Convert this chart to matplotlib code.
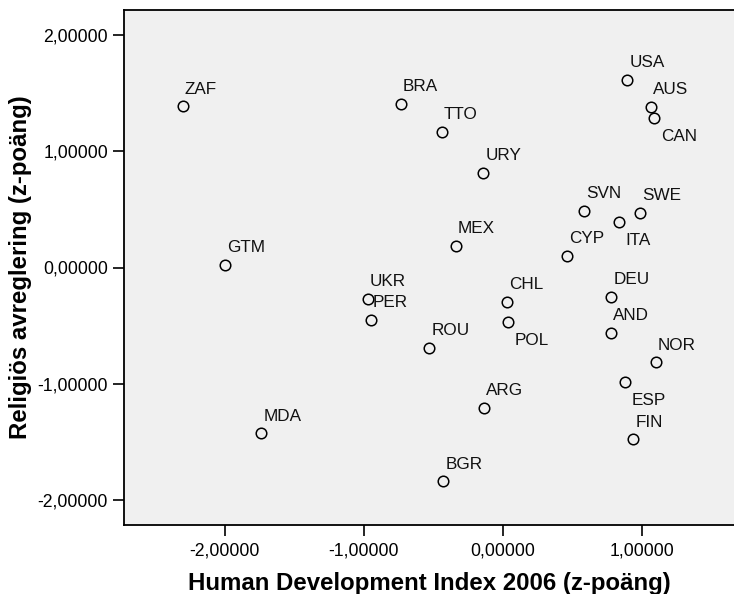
import matplotlib
matplotlib.use('Agg')
import matplotlib.pyplot as plt
from matplotlib.ticker import FuncFormatter

# Country codes and z-scores
countries = ['ZAF', 'GTM', 'MDA', 'BRA', 'TTO', 'URY', 'MEX', 'UKR', 'PER', 'ROU',
             'CHL', 'POL', 'ARG', 'BGR', 'USA', 'AUS', 'CAN', 'SVN', 'SWE', 'ITA',
             'CYP', 'DEU', 'AND', 'NOR', 'ESP', 'FIN']
hdi = [-2.30, -1.996, -1.737, -0.732, -0.437, -0.140, -0.335, -0.970, -0.948, -0.527,
       0.032, 0.042, -0.131, -0.426, 0.898, 1.071, 1.092, 0.589, 0.987, 0.840,
       0.464, 0.781, 0.781, 1.102, 0.884, 0.941]
religion = [1.385, 0.023, -1.427, 1.405, 1.167, 0.812, 0.187, -0.267, -0.452, -0.690,
            -0.298, -0.473, -1.206, -1.840, 1.617, 1.384, 1.287, 0.490, 0.470, 0.393,
            0.101, -0.255, -0.561, -0.817, -0.985, -1.479]
ticks = [-2, -1, 0, 1, 2]

# labels that sit below-right of their point instead of above
below_right = ['POL', 'CAN', 'ITA', 'ESP']

plt.rcParams['font.family'] = ['Liberation Sans', 'DejaVu Sans']

fig = plt.figure(figsize=(7.34, 5.94), dpi=100)
ax = fig.add_axes([124 / 734, 1 - 525 / 594, 1 - 124 / 734, 515 / 594])
ax.set_facecolor('#f0f0f0')

ax.plot(hdi, religion, 'o', ms=7.6, mfc='none', mec='black', mew=1.1)

for name, x, y in zip(countries, hdi, religion):
    off = (6.5, -22.7) if name in below_right else (2, 12.7)
    ax.annotate(name, (x, y), xytext=off, textcoords='offset pixels',
                ha='left', va='baseline', fontsize=12.3, color='#111111')

ax.set_xlim(-2.724, 1.665)
ax.set_ylim(-2.215, 2.215)
ax.set_xticks(ticks[:-1])
ax.set_yticks(ticks)
fmt = FuncFormatter(lambda v, p: ('%.5f' % v).replace('.', ','))
ax.xaxis.set_major_formatter(fmt)
ax.yaxis.set_major_formatter(fmt)
ax.tick_params(length=8, width=1.2, labelsize=12.7, colors='black')
ax.tick_params(axis='x', pad=4.5)
ax.tick_params(axis='y', pad=3.6)
for s in ['left', 'bottom', 'top']:
    ax.spines[s].set_linewidth(1.3)
ax.spines['right'].set_visible(False)

fig.text(429 / 734, 1 - 590 / 594, 'Human Development Index 2006 (z-poäng)',
         ha='center', va='baseline', fontsize=17.3, fontweight='bold')
fig.text(21 / 734, 1 - 267.5 / 594, 'Religiös avreglering (z-poäng)',
         ha='center', va='center', rotation=90, fontsize=17.3, fontweight='bold')

fig.savefig('out.png', dpi=100)
